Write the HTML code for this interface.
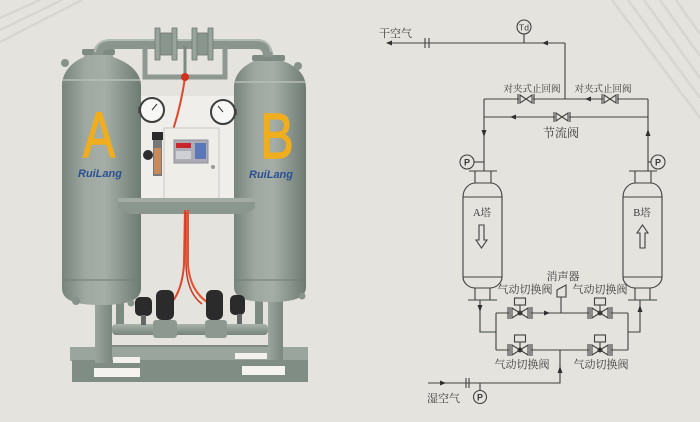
<!DOCTYPE html>
<html><head><meta charset="utf-8"><style>
html,body{margin:0;padding:0;background:#e4e3de;}
svg{display:block;}
.t{font-family:"Liberation Serif","Noto Serif CJK SC",serif;fill:#3a3a3a;}
</style></head><body>
<svg width="700" height="422" viewBox="0 0 700 422" xmlns="http://www.w3.org/2000/svg">
<defs>
<linearGradient id="tk" x1="0" x2="1" y1="0" y2="0">
<stop offset="0" stop-color="#77847b"/><stop offset="0.3" stop-color="#9fa9a1"/><stop offset="0.55" stop-color="#a4aea6"/><stop offset="1" stop-color="#6e7b72"/>
</linearGradient>
<linearGradient id="pp" x1="0" x2="0" y1="0" y2="1">
<stop offset="0" stop-color="#a9b3ab"/><stop offset="1" stop-color="#77847b"/>
</linearGradient>
<linearGradient id="lg" x1="0" x2="1">
<stop offset="0" stop-color="#9aa59d"/><stop offset="1" stop-color="#7a877e"/>
</linearGradient>
</defs>
<rect width="700" height="422" fill="#e4e3de"/>
<!-- background stripes -->
<g stroke="#d7d6d1" stroke-width="2.5">
<line x1="0" y1="18" x2="40" y2="0"/><line x1="0" y1="30" x2="62" y2="0"/><line x1="0" y1="42" x2="82" y2="0"/>
<line x1="612" y1="0" x2="700" y2="118"/><line x1="628" y1="0" x2="700" y2="98"/><line x1="644" y1="0" x2="700" y2="78"/><line x1="660" y1="0" x2="700" y2="56"/><line x1="676" y1="0" x2="700" y2="34"/>
</g>

<!-- ===== PHOTO ===== -->
<!-- backplate -->
<rect x="136" y="96" width="100" height="106" fill="#efeeea"/>
<!-- base frame -->
<rect x="112" y="345" width="156" height="7" fill="#7f8b83"/>
<rect x="70" y="347" width="238" height="14" fill="#9aa59d"/>
<rect x="72" y="360" width="236" height="22" fill="#808d84"/>
<rect x="113" y="357" width="27" height="6" fill="#f2f1ed"/>
<rect x="235" y="353" width="32" height="6" fill="#f2f1ed"/>
<rect x="94" y="368" width="46" height="9" fill="#f4f3ef"/>
<rect x="242" y="366" width="43" height="9" fill="#f4f3ef"/>
<!-- legs -->
<rect x="95" y="255" width="17" height="108" fill="url(#lg)"/>
<rect x="268" y="252" width="15" height="108" fill="url(#lg)"/>
<!-- drops from tanks -->
<rect x="116" y="300" width="8" height="26" fill="#7d8a81"/>
<rect x="255" y="298" width="8" height="28" fill="#7d8a81"/>
<!-- manifold -->
<rect x="112" y="324" width="156" height="11" rx="4" fill="url(#pp)"/>
<rect x="153" y="320" width="24" height="18" rx="3" fill="#8d9990"/>
<rect x="205" y="320" width="22" height="18" rx="3" fill="#8d9990"/>
<!-- tanks -->
<path d="M62,86 C62,72 72,62 84,57 L84,52 L113,52 L113,57 C128,62 141,72 141,86 L141,288 C141,300 128,305 101,305 C74,305 62,300 62,288 Z" fill="url(#tk)"/>
<path d="M234,88 C234,74 243,66 254,61 L254,57 L283,57 L283,61 C296,66 306,74 306,88 L306,287 C306,298 294,302 270,302 C246,302 234,298 234,287 Z" fill="url(#tk)"/>
<line x1="63" y1="80" x2="140" y2="80" stroke="#b5beb7" stroke-width="1.5"/>
<line x1="235" y1="82" x2="305" y2="82" stroke="#b5beb7" stroke-width="1.5"/>
<line x1="63" y1="280" x2="140" y2="280" stroke="#6f7c73" stroke-width="1"/>
<line x1="235" y1="280" x2="305" y2="280" stroke="#6f7c73" stroke-width="1"/>
<rect x="82" y="49" width="33" height="6" rx="2" fill="#7e8b82"/>
<rect x="252" y="55" width="33" height="6" rx="2" fill="#7e8b82"/>
<circle cx="65" cy="63" r="4" fill="#86928a"/>
<circle cx="298" cy="66" r="4" fill="#86928a"/>
<circle cx="76" cy="301" r="4" fill="#86928a"/>
<circle cx="131" cy="303" r="3.5" fill="#86928a"/>
<circle cx="302" cy="296" r="3.5" fill="#86928a"/>
<!-- top pipe -->
<path d="M98,55 Q98,44 112,44 L256,44 Q268,44 268,57" fill="none" stroke="#8a968d" stroke-width="10"/>
<path d="M95,52 Q96,40 112,40 L256,40 Q270,40 271,52" fill="none" stroke="#b2bbb4" stroke-width="2"/>
<!-- U pipe -->
<path d="M145,46 L145,77 L225,77 L225,46" fill="none" stroke="#8d9990" stroke-width="5"/>
<line x1="185" y1="46" x2="185" y2="76" stroke="#7d8a81" stroke-width="3"/>
<!-- flanged valves -->
<g fill="#98a39b" stroke="#6c7870" stroke-width="0.8">
<rect x="158" y="33" width="16" height="22" fill="#8a968d"/>
<rect x="155" y="28" width="5" height="32"/><rect x="172" y="28" width="5" height="32"/>
<rect x="195" y="33" width="15" height="22" fill="#8a968d"/>
<rect x="192" y="28" width="5" height="32"/><rect x="208" y="28" width="5" height="32"/>
</g>
<!-- red valve & tube -->
<path d="M185,78 Q181,105 173,130" fill="none" stroke="#e2452a" stroke-width="2"/>
<circle cx="185" cy="77" r="4" fill="#d3301f"/>
<!-- gauges -->
<rect x="138" y="107" width="6" height="6" fill="#555"/>
<circle cx="152" cy="110" r="12" fill="#f7f7f5" stroke="#3c3f3d" stroke-width="2"/>
<line x1="152" y1="110" x2="157" y2="104" stroke="#333" stroke-width="1"/>
<rect x="231" y="109" width="6" height="6" fill="#555"/>
<circle cx="223" cy="112" r="12" fill="#f7f7f5" stroke="#3c3f3d" stroke-width="2"/>
<line x1="223" y1="112" x2="218" y2="106" stroke="#333" stroke-width="1"/>
<!-- filter regulator -->
<rect x="153" y="132" width="9" height="44" fill="#777"/>
<rect x="154" y="148" width="7" height="26" fill="#c98a5a"/>
<circle cx="148" cy="155" r="5" fill="#2d2d2d"/>
<rect x="152" y="132" width="11" height="8" fill="#2a2a2a"/>
<!-- control box -->
<rect x="164" y="128" width="55" height="71" fill="#eeede8" stroke="#c9c8c3" stroke-width="1"/>
<rect x="174" y="140" width="34" height="23" fill="#aeabb5" stroke="#8c909c" stroke-width="1"/>
<rect x="176" y="143" width="15" height="5" fill="#c8262a"/>
<rect x="195" y="143" width="11" height="16" fill="#5a78b8"/>
<rect x="176" y="151" width="15" height="8" fill="#cfd0d6"/>
<circle cx="213" cy="167" r="2" fill="#999"/>
<!-- shelf -->
<path d="M118,198 L255,198 L255,208 L245,214 L130,214 L118,208 Z" fill="#8a968e"/>
<rect x="118" y="198" width="137" height="4" fill="#a2aca4"/>
<!-- red tubes lower -->
<path d="M185,210 L184,265 Q182,290 172,302" fill="none" stroke="#e2452a" stroke-width="2"/>
<path d="M188,210 L188,265 Q190,290 207,302" fill="none" stroke="#e8512e" stroke-width="2"/>
<path d="M186,212 L186,262 Q186,292 202,304" fill="none" stroke="#c83a22" stroke-width="1.5"/>
<!-- dark valves -->
<g fill="#2b2b2b">
<rect x="135" y="297" width="17" height="19" rx="5"/>
<rect x="156" y="290" width="18" height="30" rx="6"/>
<rect x="206" y="290" width="17" height="30" rx="6"/>
<rect x="230" y="295" width="15" height="20" rx="5"/>
</g>
<rect x="141" y="315" width="5" height="10" fill="#666"/>
<rect x="237" y="314" width="5" height="10" fill="#666"/>
<!-- letters -->
<text x="0" y="0" transform="translate(99,157) scale(0.75,1)" text-anchor="middle" font-family="Liberation Sans,sans-serif" font-size="64" fill="#f0ad1d" stroke="#f0ad1d" stroke-width="1.4">A</text>
<text x="0" y="0" transform="translate(277,158) scale(0.78,1)" text-anchor="middle" font-family="Liberation Sans,sans-serif" font-size="64" fill="#f0ad1d" stroke="#f0ad1d" stroke-width="1.4">B</text>
<text x="100" y="177" text-anchor="middle" font-family="Liberation Sans,sans-serif" font-size="11" font-style="italic" font-weight="bold" fill="#2c4f94">RuiLang</text>
<text x="271" y="178" text-anchor="middle" font-family="Liberation Sans,sans-serif" font-size="11" font-style="italic" font-weight="bold" fill="#2c4f94">RuiLang</text>

<!-- ===== DIAGRAM ===== -->
<g stroke="#404040" stroke-width="1.1" fill="none">
<line x1="389" y1="43" x2="565" y2="43"/>
<line x1="425" y1="38" x2="425" y2="48"/><line x1="429" y1="38" x2="429" y2="48"/>
<line x1="524" y1="34" x2="524" y2="43"/>
<circle cx="524" cy="27" r="7"/>
<line x1="565" y1="43" x2="565" y2="99"/>
<line x1="484" y1="99" x2="648" y2="99"/>
<line x1="484" y1="117" x2="648" y2="117"/>
<line x1="484" y1="99" x2="484" y2="171"/>
<line x1="648" y1="99" x2="648" y2="171"/>
<circle cx="467" cy="162" r="7"/><line x1="474" y1="162" x2="484" y2="162"/>
<circle cx="658" cy="162" r="7"/><line x1="648" y1="162" x2="651" y2="162"/>
<line x1="469" y1="171" x2="497" y2="171"/>
<path d="M475,171 L475,183 M491,171 L491,183"/>
<path d="M463,277 L463,197 C463,188 470,183 475,183 L491,183 C496,183 502,188 502,197 L502,277 C502,283 496,288 490,288 L475,288 C469,288 463,283 463,277 Z"/>
<line x1="463" y1="197" x2="502" y2="197"/><line x1="463" y1="277" x2="502" y2="277"/>
<path d="M475,288 L475,300 M490,288 L490,300"/>
<line x1="468" y1="300" x2="497" y2="300"/>
<line x1="629" y1="171" x2="657" y2="171"/>
<path d="M635,171 L635,183 M651,171 L651,183"/>
<path d="M623,277 L623,197 C623,188 630,183 635,183 L651,183 C656,183 662,188 662,197 L662,277 C662,283 656,288 650,288 L635,288 C629,288 623,283 623,277 Z"/>
<line x1="623" y1="197" x2="662" y2="197"/><line x1="623" y1="277" x2="662" y2="277"/>
<path d="M635,288 L635,300 M650,288 L650,300"/>
<line x1="628" y1="300" x2="657" y2="300"/>
<path d="M479,225 L484,225 L484,240 L487,240 L481.5,248 L476,240 L479,240 Z"/>
<path d="M640,248 L645,248 L645,233 L648,233 L642.5,225 L637,233 L640,233 Z"/>
<path d="M480,300 L480,332 L496,332"/>
<line x1="496" y1="313" x2="496" y2="350"/>
<line x1="496" y1="313" x2="628" y2="313"/>
<line x1="496" y1="350" x2="628" y2="350"/>
<line x1="628" y1="313" x2="628" y2="350"/>
<path d="M628,332 L640,332 L640,300"/>
<line x1="561" y1="313" x2="561" y2="297"/>
<path d="M557,297 L557,290 L566,285 L566,297 Z"/>
<path d="M560,350 L560,383 L428,383"/>
<line x1="466" y1="378" x2="466" y2="388"/><line x1="469" y1="378" x2="469" y2="388"/>
<line x1="480" y1="383" x2="480" y2="390"/>
<circle cx="480" cy="397" r="6.5"/>
</g>
<g stroke="#404040" stroke-width="1.1" fill="#e4e3de">
<g transform="translate(526,99)"><rect x="-7" y="-5" width="14" height="10" stroke="none"/><line x1="-8" y1="-5" x2="-8" y2="5"/><line x1="8" y1="-5" x2="8" y2="5"/><path d="M-6,-4 L6,4 L6,-4 L-6,4 Z"/></g>
<g transform="translate(610,99)"><rect x="-7" y="-5" width="14" height="10" stroke="none"/><line x1="-8" y1="-5" x2="-8" y2="5"/><line x1="8" y1="-5" x2="8" y2="5"/><path d="M-6,-4 L6,4 L6,-4 L-6,4 Z"/></g>
<g transform="translate(562,117)"><rect x="-7" y="-5" width="14" height="10" stroke="none"/><line x1="-8" y1="-5" x2="-8" y2="5"/><line x1="8" y1="-5" x2="8" y2="5"/><path d="M-6,-4 L6,4 L6,-4 L-6,4 Z"/></g>
</g>
<g stroke="#404040" stroke-width="1.1" fill="#e4e3de">
<g transform="translate(520,313)"><rect x="-11" y="-5" width="22" height="10" stroke="none"/><line x1="-12" y1="-6" x2="-12" y2="6"/><line x1="-10" y1="-6" x2="-10" y2="6"/><line x1="10" y1="-6" x2="10" y2="6"/><line x1="12" y1="-6" x2="12" y2="6"/><path d="M-8,-5 L8,5 L8,-5 L-8,5 Z"/><line x1="0" y1="0" x2="0" y2="-8"/><rect x="-5.5" y="-15" width="11" height="7"/><circle cx="0" cy="0" r="2" fill="#303030"/></g>
<g transform="translate(600,313)"><rect x="-11" y="-5" width="22" height="10" stroke="none"/><line x1="-12" y1="-6" x2="-12" y2="6"/><line x1="-10" y1="-6" x2="-10" y2="6"/><line x1="10" y1="-6" x2="10" y2="6"/><line x1="12" y1="-6" x2="12" y2="6"/><path d="M-8,-5 L8,5 L8,-5 L-8,5 Z"/><line x1="0" y1="0" x2="0" y2="-8"/><rect x="-5.5" y="-15" width="11" height="7"/><circle cx="0" cy="0" r="2" fill="#303030"/></g>
<g transform="translate(520,350)"><rect x="-11" y="-5" width="22" height="10" stroke="none"/><line x1="-12" y1="-6" x2="-12" y2="6"/><line x1="-10" y1="-6" x2="-10" y2="6"/><line x1="10" y1="-6" x2="10" y2="6"/><line x1="12" y1="-6" x2="12" y2="6"/><path d="M-8,-5 L8,5 L8,-5 L-8,5 Z"/><line x1="0" y1="0" x2="0" y2="-8"/><rect x="-5.5" y="-15" width="11" height="7"/><circle cx="0" cy="0" r="2" fill="#303030"/></g>
<g transform="translate(600,350)"><rect x="-11" y="-5" width="22" height="10" stroke="none"/><line x1="-12" y1="-6" x2="-12" y2="6"/><line x1="-10" y1="-6" x2="-10" y2="6"/><line x1="10" y1="-6" x2="10" y2="6"/><line x1="12" y1="-6" x2="12" y2="6"/><path d="M-8,-5 L8,5 L8,-5 L-8,5 Z"/><line x1="0" y1="0" x2="0" y2="-8"/><rect x="-5.5" y="-15" width="11" height="7"/><circle cx="0" cy="0" r="2" fill="#303030"/></g>
</g>
<g fill="#303030">
<polygon points="386,43 392,40.5 392,45.5"/>
<polygon points="542,43 548,40.5 548,45.5"/>
<polygon points="585,99 591,96.5 591,101.5"/>
<polygon points="510,117 516,114.5 516,119.5"/>
<polygon points="484,137 481.5,130 486.5,130"/>
<polygon points="648,129 645.5,136 650.5,136"/>
<polygon points="480,312 477.5,305 482.5,305"/>
<polygon points="640,305 637.5,312 642.5,312"/>
<polygon points="550,313 544,310.5 544,315.5"/>
<polygon points="560,366 557.5,373 562.5,373"/>
<polygon points="446,383 440,380.5 440,385.5"/>
</g>
<text class="t" x="524" y="30.5" text-anchor="middle" font-size="8.5" style="font-family:'Liberation Sans',sans-serif">Td</text>
<text class="t" x="467" y="165.5" text-anchor="middle" font-size="9" font-weight="bold" style="font-family:'Liberation Sans',sans-serif">P</text>
<text class="t" x="658" y="165.5" text-anchor="middle" font-size="9" font-weight="bold" style="font-family:'Liberation Sans',sans-serif">P</text>
<text class="t" x="480" y="400.5" text-anchor="middle" font-size="9" font-weight="bold" style="font-family:'Liberation Sans',sans-serif">P</text>
<text class="t" x="379" y="37" font-size="11">干空气</text>
<text class="t" x="532" y="92" text-anchor="middle" font-size="9.5">对夹式止回阀</text>
<text class="t" x="603" y="92" text-anchor="middle" font-size="9.5">对夹式止回阀</text>
<text class="t" x="561" y="137" text-anchor="middle" font-size="12">节流阀</text>
<text class="t" x="482" y="216" text-anchor="middle" font-size="10.5">A塔</text>
<text class="t" x="642" y="216" text-anchor="middle" font-size="10.5">B塔</text>
<text class="t" x="563" y="280" text-anchor="middle" font-size="11">消声器</text>
<text class="t" x="525" y="293" text-anchor="middle" font-size="11">气动切换阀</text>
<text class="t" x="600" y="293" text-anchor="middle" font-size="11">气动切换阀</text>
<text class="t" x="522" y="368" text-anchor="middle" font-size="11">气动切换阀</text>
<text class="t" x="601" y="368" text-anchor="middle" font-size="11">气动切换阀</text>
<text class="t" x="427" y="402" font-size="11">湿空气</text>
</svg>
</body></html>
